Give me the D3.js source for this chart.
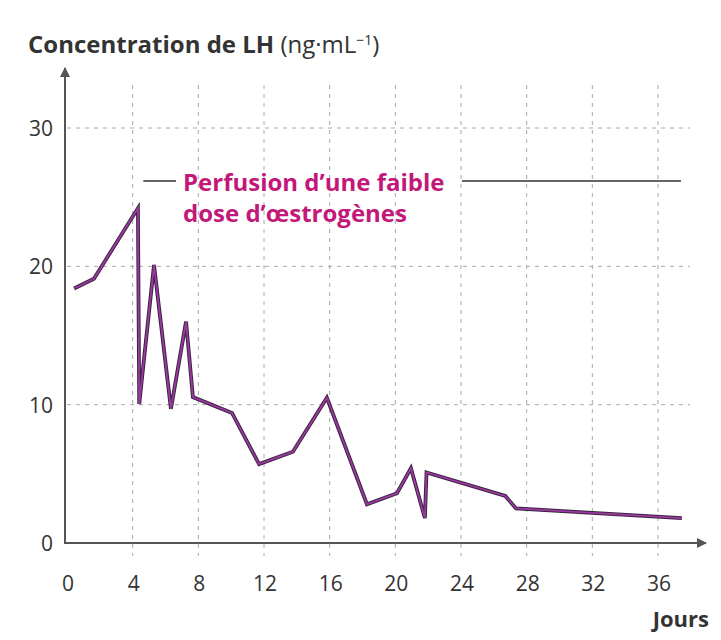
<!DOCTYPE html>
<html>
<head>
<meta charset="utf-8">
<script src="https://cdn.jsdelivr.net/npm/d3@7"></script>
<style>
  body { margin: 0; background: #fff; }
  svg { display: block; font-family: "Open Sans", "Noto Sans", sans-serif; }
</style>
</head>
<body>
<svg id="chart" width="721" height="640"></svg>
<script>
// LH concentration (ng/mL) against days
var days = [0.43, 1.64, 4.32, 4.4, 5.3, 6.33, 7.25, 7.67, 10.05, 11.7, 13.76, 15.83, 18.27, 20.1, 20.95, 21.8, 21.9, 26.7, 27.35, 37.45];
var lh = [18.4, 19.1, 24.2, 10.05, 20.1, 9.7, 16.0, 10.55, 9.4, 5.7, 6.6, 10.5, 2.8, 3.6, 5.4, 1.8, 5.1, 3.4, 2.5, 1.8];
var xTicks = [0, 4, 8, 12, 16, 20, 24, 28, 32, 36];
var yTicks = [0, 10, 20, 30];
var perfusion = [4.65, 37.4];

var svg = d3.select("#chart");

var x = d3.scaleLinear().domain([0, 36]).range([67, 658]);
var y = d3.scaleLinear().domain([0, 30]).range([543, 128]);

var grid = svg.append("g")
  .attr("stroke", "#a8a8a8")
  .attr("stroke-width", 1)
  .attr("stroke-dasharray", "4,5");

// vertical grid
grid.selectAll("line.v")
  .data(xTicks.slice(1))
  .enter().append("line")
  .attr("x1", function (d) { return x(d); })
  .attr("x2", function (d) { return x(d); })
  .attr("y1", 85)
  .attr("y2", 556);

// horizontal grid
grid.selectAll("line.h")
  .data(yTicks.slice(1))
  .enter().append("line")
  .attr("x1", x(0))
  .attr("x2", 690)
  .attr("y1", function (d) { return y(d); })
  .attr("y2", function (d) { return y(d); });

// axes with arrows
var defs = svg.append("defs");
defs.append("marker")
  .attr("id", "arrow")
  .attr("viewBox", "0 0 10 10")
  .attr("refX", 9).attr("refY", 5)
  .attr("markerWidth", 5).attr("markerHeight", 5)
  .attr("orient", "auto")
  .append("path")
  .attr("d", "M0,0 L10,5 L0,10 z")
  .attr("fill", "#555");

svg.append("line")
  .attr("x1", 65).attr("y1", y(0) + 1)
  .attr("x2", 65).attr("y2", 68)
  .attr("stroke", "#555").attr("stroke-width", 2)
  .attr("marker-end", "url(#arrow)");

svg.append("line")
  .attr("x1", 64).attr("y1", y(0))
  .attr("x2", 706).attr("y2", y(0))
  .attr("stroke", "#555").attr("stroke-width", 2)
  .attr("marker-end", "url(#arrow)");

// tick labels
svg.append("g")
  .selectAll("text")
  .data(xTicks)
  .enter().append("text")
  .attr("x", function (d) { return x(d) + 1; })
  .attr("y", 591)
  .attr("text-anchor", "middle")
  .attr("font-size", 21)
  .attr("fill", "#333")
  .text(function (d) { return d; });

svg.append("g")
  .selectAll("text")
  .data(yTicks)
  .enter().append("text")
  .attr("x", 53)
  .attr("y", function (d) { return y(d) + 8; })
  .attr("text-anchor", "end")
  .attr("font-size", 21)
  .attr("fill", "#333")
  .text(function (d) { return d; });

// titles
var title = svg.append("text")
  .attr("x", 28).attr("y", 53)
  .attr("font-size", 24)
  .attr("fill", "#333");
title.append("tspan").attr("font-weight", "bold").text("Concentration de LH ");
title.append("tspan").text("(ng·mL");
title.append("tspan").attr("font-size", 14).attr("dy", -8).text("−1");
title.append("tspan").attr("dy", 8).text(")");

svg.append("text")
  .attr("x", 709).attr("y", 627)
  .attr("text-anchor", "end")
  .attr("font-size", 22)
  .attr("font-weight", "bold")
  .attr("fill", "#333")
  .text("Jours");

// perfusion annotation
svg.append("line")
  .attr("x1", x(perfusion[0])).attr("x2", 176)
  .attr("y1", 181).attr("y2", 181)
  .attr("stroke", "#333").attr("stroke-width", 1.5);
svg.append("line")
  .attr("x1", 462).attr("x2", x(perfusion[1]))
  .attr("y1", 181).attr("y2", 181)
  .attr("stroke", "#333").attr("stroke-width", 1.5);

var note = svg.append("text")
  .attr("font-size", 24)
  .attr("font-weight", "bold")
  .attr("fill", "#c2187a");
note.append("tspan").attr("x", 183).attr("y", 191).text("Perfusion d’une faible");
note.append("tspan").attr("x", 183).attr("y", 222).text("dose d’œstrogènes");

// LH curve
var pts = days.map(function (d, i) { return [d, lh[i]]; });
var line = d3.line()
  .x(function (d) { return x(d[0]); })
  .y(function (d) { return y(d[1]); });

svg.append("path")
  .datum(pts)
  .attr("d", line)
  .attr("fill", "none")
  .attr("stroke", "#3b2440")
  .attr("stroke-width", 3.8)
  .attr("stroke-linejoin", "miter");

svg.append("path")
  .datum(pts)
  .attr("d", line)
  .attr("fill", "none")
  .attr("stroke", "#9a3aa0")
  .attr("stroke-width", 1.8)
  .attr("stroke-linejoin", "miter");
</script>
</body>
</html>
